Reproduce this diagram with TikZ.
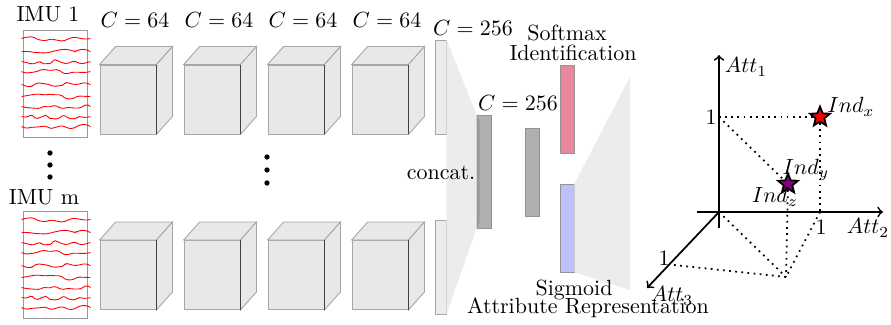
\documentclass[tikz,border=0pt]{standalone}
\usepackage{tikz}
\usetikzlibrary{calc,positioning,shapes.geometric,shapes.misc,decorations.pathmorphing}

\begin{document}
\begin{tikzpicture}[x=0.455pt,y=-0.455pt,
	face/.style={rectangle,draw=gray!70,fill=gray!18,minimum width=25.5pt,minimum height=31.4pt,inner sep=0pt},
	side/.style={draw=gray!70,fill=gray!18},
	thinbar/.style={rectangle,draw=gray!70,fill=gray!15,minimum width=5pt,minimum height=42.8pt,inner sep=0pt},
	fcbar/.style={rectangle,draw=gray!85,fill=gray!62,minimum width=6.4pt,minimum height=40pt,inner sep=0pt},
	outbar/.style={rectangle,draw=gray!85,minimum width=6.4pt,minimum height=40pt,inner sep=0pt},
	imubox/.style={rectangle,draw=gray!80,minimum width=29.1pt,minimum height=48.7pt,inner sep=0pt},
	signal/.style={red,rounded corners=0.8pt,decorate,decoration={random steps,segment length=2.6pt,amplitude=1.3pt}},
	vdot/.style={circle,fill=black,inner sep=0pt,minimum size=2.4pt},
	ind/.style={star,star points=5,star point ratio=2.3,draw=black,thick,inner sep=0pt,minimum size=9.5pt},
	axis/.style={->,thick},
	proj/.style={dotted,thick},
	]
	\useasboundingbox (0,0) rectangle (891,325);
	% sensor inputs
	\node (imu1) [imubox] at (55,83.5) {};
	\node (imum) [imubox] at (55,264.5) {};
	\node (lab1) at (48,14) {IMU 1};
	\node (labm) at (44,197) {IMU m};
	\foreach \b in {imu1,imum}
		\foreach \dy/\s in {9/3,22/11,32/17,42/23,55/31,67/41,77/47,87/53,97/61} {
			\pgfmathsetseed{\s}
			\draw[signal] ($(\b.north west)+(-1,\dy)$) -- ($(\b.north east)+(3,\dy)$);
		}
	\node (d1) [vdot] at (50,153) {};
	\node (d2) [vdot] at (50,165) {};
	\node (d3) [vdot] at (50,177) {};
	% conv blocks
	\foreach \i/\x in {1/128,2/212,3/296,4/380} {
		\node (top\i) [face] at (\x,99.5) {};
		\node (bot\i) [face] at (\x,275) {};
		\node (c\i) at (\x+7,20) {$C=64$};
	}
	\foreach \n in {top1,top2,top3,top4,bot1,bot2,bot3,bot4} {
		\draw[side] (\n.north west) -- ($(\n.north west)+(16,-18)$) -- ($(\n.north east)+(16,-18)$) -- (\n.north east) -- cycle;
		\draw[side] (\n.north east) -- ($(\n.north east)+(16,-18)$) -- ($(\n.south east)+(16,-18)$) -- (\n.south east) -- cycle;
		\draw[black!75,line width=0.7pt] (\n.north east) -- (\n.south east);
	}
	\node (m1) [vdot] at (267,157) {};
	\node (m2) [vdot] at (267,170) {};
	\node (m3) [vdot] at (267,183) {};
	% fully connected part
	\node (fc1) [thinbar] at (440.5,87) {};
	\node (fc2) [thinbar] at (440.5,267) {};
	\node (cat) [fcbar,minimum height=51.4pt] at (484,171.5) {};
	\fill[gray!15] (fc1.north east) -- (cat.north west) -- (cat.south west) -- (fc2.south east) -- cycle;
	\fill[gray!80] (cat.north west) -- ($(cat.north west)+(3,6)$) -- ($(cat.south west)+(3,-6)$) -- (cat.south west) -- cycle;
	\node (fc3) [fcbar] at (532,172) {};
	\node (soft) [outbar,fill=purple!45!pink!80] at (567,109) {};
	\node (sig) [outbar,fill=blue!25] at (567,228) {};
	\coordinate (fanT) at (630,77);
	\coordinate (fanB) at (630,290);
	\fill[gray!15] (sig.north east) -- (fanT) -- (fanB) -- (sig.south east) -- cycle;
	\node (c5) at (473,28) {$C=256$};
	\node (c6) at (518,103) {$C=256$};
	\node (concat) at (441,173) {concat.};
	\node (softlab) at (567,33) {Softmax};
	\node (identlab) at (573,53) {Identification};
	\node (siglab) at (574,290) {Sigmoid};
	\node (attlab) at (588,308) {Attribute Representation};
	% attribute space
	\coordinate (o) at (719,212);
	\coordinate (xa) at (697,212);
	\coordinate (xb) at (883,212);
	\coordinate (ya) at (719,228);
	\coordinate (yb) at (719,55);
	\coordinate (zb) at (647,288);
	\coordinate (p1) at (719,117);
	\coordinate (p2) at (820,212);
	\coordinate (p3) at (674,265);
	\coordinate (pp) at (786,277);
	\draw[proj] (o) -- (p1);
	\draw[proj] (o) -- (p2);
	\draw[proj] (p1) -- (820,117);
	\draw[proj] (820,117) -- (p2);
	\draw[proj] (p1) -- (788,184);
	\draw[proj] (788,184) -- (pp);
	\draw[proj] (o) -- (pp);
	\draw[proj] (p2) -- (pp);
	\draw[proj] (p3) -- (pp);
	\draw[axis] (xa) -- (xb);
	\draw[axis] (ya) -- (yb);
	\draw[axis] (o) -- (zb);
	\node (ix) [ind,fill=red] at (820,117) {};
	\node (iy) [ind,fill=violet] at (788,184) {};
	\node (a1) at (746,67) {$Att_1$};
	\node (a2) at (868,228) {$Att_2$};
	\node (a3) at (672,296) {$Att_3$};
	\node (one1) at (711,117) {1};
	\node (one2) at (821,227) {1};
	\node (one3) at (664,258) {1};
	\node (lx) at (851,107) {$Ind_x$};
	\node (ly) at (806,170) {$Ind_y$};
	\node (lz) at (775,197) {$Ind_z$};
\end{tikzpicture}
\end{document}
